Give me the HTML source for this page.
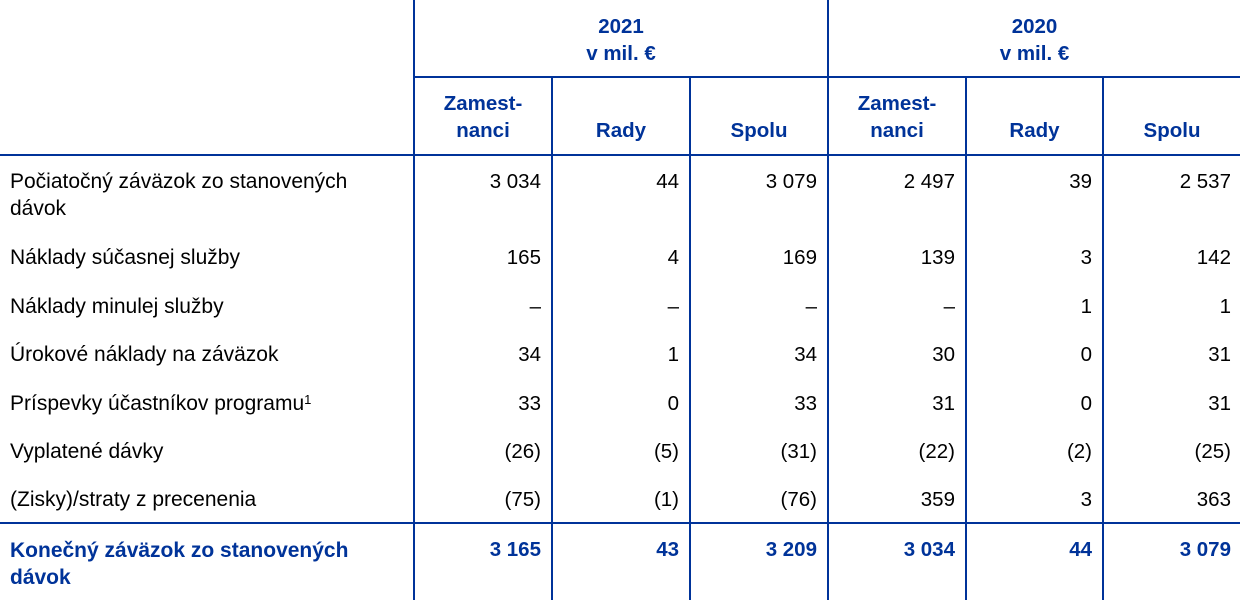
<!DOCTYPE html>
<html>
<head>
<meta charset="utf-8">
<style>
  html,body{margin:0;padding:0;background:#fff;}
  body{width:1240px;height:608px;position:relative;overflow:hidden;font-family:"Liberation Sans",Arial,sans-serif;font-size:20.5px;color:#000;}
  .t{position:absolute;line-height:27px;white-space:nowrap;}
  .l{font-size:21px;}
  .b{font-weight:bold;color:#003399;}
  .r{text-align:right;}
  .c{text-align:center;}
  .v{position:absolute;width:2px;background:#003399;}
  .h{position:absolute;height:2px;background:#003399;}
  .sp{font-size:13px;position:relative;top:-6px;line-height:0;}
</style>
</head>
<body>
<!-- lines -->
<div class="v" style="left:413px;top:0;height:600px;"></div>
<div class="v" style="left:827px;top:0;height:600px;"></div>
<div class="v" style="left:551px;top:77px;height:523px;"></div>
<div class="v" style="left:689px;top:77px;height:523px;"></div>
<div class="v" style="left:965px;top:77px;height:523px;"></div>
<div class="v" style="left:1102px;top:77px;height:523px;"></div>
<div class="h" style="left:413px;top:76px;width:827px;"></div>
<div class="h" style="left:0;top:154px;width:1240px;"></div>
<div class="h" style="left:0;top:522px;width:1240px;"></div>

<!-- top headers -->
<div class="t b c" style="left:415px;width:412px;top:13px;">2021<br>v mil. €</div>
<div class="t b c" style="left:829px;width:411px;top:13px;">2020<br>v mil. €</div>

<!-- sub headers -->
<div class="t b c" style="left:415px;width:136px;top:90px;">Zamest-<br>nanci</div>
<div class="t b c" style="left:553px;width:136px;top:117px;">Rady</div>
<div class="t b c" style="left:691px;width:136px;top:117px;">Spolu</div>
<div class="t b c" style="left:829px;width:136px;top:90px;">Zamest-<br>nanci</div>
<div class="t b c" style="left:967px;width:135px;top:117px;">Rady</div>
<div class="t b c" style="left:1104px;width:136px;top:117px;">Spolu</div>

<!-- labels -->
<div class="t l" style="left:10px;top:168px;">Počiatočný záväzok zo stanovených<br>dávok</div>
<div class="t l" style="left:10px;top:244px;">Náklady súčasnej služby</div>
<div class="t l" style="left:10px;top:293px;">Náklady minulej služby</div>
<div class="t l" style="left:10px;top:341px;">Úrokové náklady na záväzok</div>
<div class="t l" style="left:10px;top:390px;">Príspevky účastníkov programu<span class="sp">1</span></div>
<div class="t l" style="left:10px;top:438px;">Vyplatené dávky</div>
<div class="t l" style="left:10px;top:486px;">(Zisky)/straty z precenenia</div>
<div class="t l b" style="left:10px;top:537px;">Konečný záväzok zo stanovených<br>dávok</div>

<!-- row 1 -->
<div class="t r" style="left:420px;width:121px;top:168px;">3 034</div>
<div class="t r" style="left:558px;width:121px;top:168px;">44</div>
<div class="t r" style="left:696px;width:121px;top:168px;">3 079</div>
<div class="t r" style="left:834px;width:121px;top:168px;">2 497</div>
<div class="t r" style="left:971px;width:121px;top:168px;">39</div>
<div class="t r" style="left:1110px;width:121px;top:168px;">2 537</div>
<!-- row 2 -->
<div class="t r" style="left:420px;width:121px;top:244px;">165</div>
<div class="t r" style="left:558px;width:121px;top:244px;">4</div>
<div class="t r" style="left:696px;width:121px;top:244px;">169</div>
<div class="t r" style="left:834px;width:121px;top:244px;">139</div>
<div class="t r" style="left:971px;width:121px;top:244px;">3</div>
<div class="t r" style="left:1110px;width:121px;top:244px;">142</div>
<!-- row 3 -->
<div class="t r" style="left:420px;width:121px;top:293px;">–</div>
<div class="t r" style="left:558px;width:121px;top:293px;">–</div>
<div class="t r" style="left:696px;width:121px;top:293px;">–</div>
<div class="t r" style="left:834px;width:121px;top:293px;">–</div>
<div class="t r" style="left:971px;width:121px;top:293px;">1</div>
<div class="t r" style="left:1110px;width:121px;top:293px;">1</div>
<!-- row 4 -->
<div class="t r" style="left:420px;width:121px;top:341px;">34</div>
<div class="t r" style="left:558px;width:121px;top:341px;">1</div>
<div class="t r" style="left:696px;width:121px;top:341px;">34</div>
<div class="t r" style="left:834px;width:121px;top:341px;">30</div>
<div class="t r" style="left:971px;width:121px;top:341px;">0</div>
<div class="t r" style="left:1110px;width:121px;top:341px;">31</div>
<!-- row 5 -->
<div class="t r" style="left:420px;width:121px;top:390px;">33</div>
<div class="t r" style="left:558px;width:121px;top:390px;">0</div>
<div class="t r" style="left:696px;width:121px;top:390px;">33</div>
<div class="t r" style="left:834px;width:121px;top:390px;">31</div>
<div class="t r" style="left:971px;width:121px;top:390px;">0</div>
<div class="t r" style="left:1110px;width:121px;top:390px;">31</div>
<!-- row 6 -->
<div class="t r" style="left:420px;width:121px;top:438px;">(26)</div>
<div class="t r" style="left:558px;width:121px;top:438px;">(5)</div>
<div class="t r" style="left:696px;width:121px;top:438px;">(31)</div>
<div class="t r" style="left:834px;width:121px;top:438px;">(22)</div>
<div class="t r" style="left:971px;width:121px;top:438px;">(2)</div>
<div class="t r" style="left:1110px;width:121px;top:438px;">(25)</div>
<!-- row 7 -->
<div class="t r" style="left:420px;width:121px;top:486px;">(75)</div>
<div class="t r" style="left:558px;width:121px;top:486px;">(1)</div>
<div class="t r" style="left:696px;width:121px;top:486px;">(76)</div>
<div class="t r" style="left:834px;width:121px;top:486px;">359</div>
<div class="t r" style="left:971px;width:121px;top:486px;">3</div>
<div class="t r" style="left:1110px;width:121px;top:486px;">363</div>
<!-- final row -->
<div class="t r b" style="left:420px;width:121px;top:536px;">3 165</div>
<div class="t r b" style="left:558px;width:121px;top:536px;">43</div>
<div class="t r b" style="left:696px;width:121px;top:536px;">3 209</div>
<div class="t r b" style="left:834px;width:121px;top:536px;">3 034</div>
<div class="t r b" style="left:971px;width:121px;top:536px;">44</div>
<div class="t r b" style="left:1110px;width:121px;top:536px;">3 079</div>
</body>
</html>
